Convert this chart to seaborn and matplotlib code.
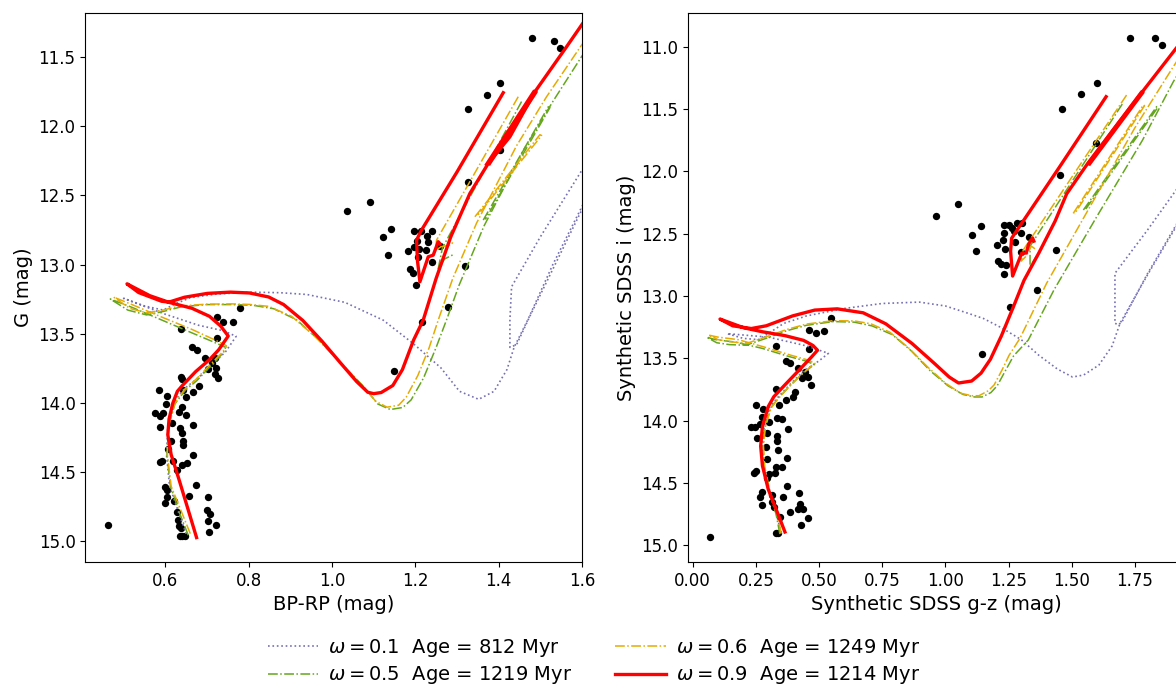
import matplotlib
matplotlib.use("Agg")
import matplotlib.pyplot as plt
from matplotlib.lines import Line2D
import pandas as pd
import seaborn as sns

# ---------------- models (legend) ----------------
MODEL_OMEGA = [0.1, 0.5, 0.6, 0.9]
MODEL_AGE = [812, 1219, 1249, 1214]

# ---------------- observed stars ----------------
L_STAR_X = [1.479, 1.534, 1.547, 1.404, 1.372, 1.327, 1.404, 1.327, 1.037, 1.092, 1.142, 1.122, 1.135,
            1.198, 1.214, 1.239, 1.229, 1.203, 1.231, 1.182, 1.210, 1.226, 1.197, 1.206, 1.239, 1.187,
            1.195, 1.202, 1.319, 1.279, 1.215, 1.149, 1.259,
            0.779, 0.723, 0.739, 0.763, 0.637, 0.723, 0.663, 0.675, 0.695, 0.719, 0.711, 0.703, 0.722,
            0.719, 0.727, 0.637, 0.640, 0.681, 0.667, 0.643, 0.650, 0.585, 0.603, 0.602, 0.639, 0.575,
            0.595, 0.587, 0.634, 0.650, 0.615, 0.667, 0.587, 0.635, 0.639, 0.613, 0.643, 0.642, 0.607,
            0.667, 0.587, 0.593, 0.618, 0.627, 0.639, 0.653, 0.599, 0.605, 0.674, 0.603, 0.599, 0.620,
            0.657, 0.702, 0.627, 0.699, 0.707, 0.703, 0.630, 0.721, 0.634, 0.638, 0.706, 0.635, 0.647,
            0.641, 0.462]
L_STAR_Y = [11.360, 11.380, 11.434, 11.689, 11.772, 11.872, 12.173, 12.399, 12.610, 12.545, 12.743, 12.803, 12.934,
            12.756, 12.756, 12.756, 12.792, 12.830, 12.835, 12.903, 12.891, 12.896, 12.870, 12.948, 12.980, 13.035,
            13.065, 13.149, 13.009, 13.310, 13.418, 13.770, 12.865,
            13.318, 13.383, 13.414, 13.414, 13.470, 13.535, 13.596, 13.620, 13.680, 13.680, 13.716, 13.760, 13.752,
            13.793, 13.820, 13.813, 13.830, 13.878, 13.921, 13.909, 13.958, 13.909, 13.953, 14.011, 14.030, 14.078,
            14.078, 14.097, 14.071, 14.086, 14.151, 14.163, 14.175, 14.185, 14.223, 14.276, 14.276, 14.307, 14.339,
            14.382, 14.433, 14.420, 14.421, 14.488, 14.450, 14.440, 14.609, 14.630, 14.599, 14.680, 14.725, 14.710,
            14.677, 14.682, 14.790, 14.778, 14.810, 14.856, 14.850, 14.889, 14.890, 14.910, 14.935, 14.966, 14.966,
            14.966, 14.889]

R_STAR_X = [1.730, 1.831, 1.857, 1.598, 1.535, 1.460, 1.596, 1.453, 0.961, 1.050, 1.139, 1.106, 1.123,
            1.231, 1.253, 1.285, 1.303, 1.264, 1.233, 1.272, 1.298, 1.330, 1.229, 1.276, 1.204, 1.237,
            1.298, 1.208, 1.221, 1.240, 1.233, 1.436, 1.362, 1.257, 1.145,
            0.547, 0.462, 0.488, 0.521, 0.328, 0.462, 0.369, 0.385, 0.415, 0.444, 0.431, 0.455, 0.468,
            0.330, 0.405, 0.396, 0.369, 0.343, 0.250, 0.279, 0.273, 0.332, 0.352, 0.231, 0.246, 0.266,
            0.303, 0.256, 0.295, 0.332, 0.332, 0.290, 0.339, 0.378, 0.374, 0.295, 0.250, 0.243, 0.330,
            0.352, 0.326, 0.300, 0.295, 0.372, 0.273, 0.422, 0.313, 0.267, 0.356, 0.273, 0.313, 0.320,
            0.425, 0.415, 0.435, 0.385, 0.345, 0.455, 0.427, 0.330, 0.339, 0.068]
R_STAR_Y = [10.930, 10.930, 10.983, 11.290, 11.383, 11.502, 11.770, 12.026, 12.357, 12.265, 12.439, 12.507, 12.638,
            12.430, 12.430, 12.414, 12.416, 12.458, 12.497, 12.480, 12.497, 12.528, 12.549, 12.563, 12.591, 12.624,
            12.645, 12.717, 12.740, 12.750, 12.821, 12.634, 12.955, 13.085, 13.464,
            13.174, 13.273, 13.294, 13.278, 13.401, 13.428, 13.519, 13.540, 13.580, 13.607, 13.660, 13.647, 13.714,
            13.749, 13.768, 13.808, 13.834, 13.877, 13.875, 13.909, 13.968, 13.981, 13.990, 14.049, 14.050, 14.027,
            14.010, 14.142, 14.100, 14.123, 14.160, 14.209, 14.235, 14.070, 14.302, 14.310, 14.402, 14.420, 14.370,
            14.374, 14.423, 14.430, 14.460, 14.522, 14.570, 14.578, 14.600, 14.610, 14.610, 14.677, 14.650, 14.690,
            14.669, 14.711, 14.710, 14.735, 14.771, 14.784, 14.837, 14.904, 14.904, 14.931]

# ---------------- isochrones, left panel (BP-RP, G) ----------------
L_W01_MAIN = [(0.650, 14.95), (0.630, 14.78), (0.610, 14.60), (0.603, 14.38), (0.606, 14.18), (0.620, 14.00),
              (0.645, 13.90), (0.675, 13.83), (0.715, 13.72), (0.745, 13.63), (0.770, 13.52), (0.740, 13.48),
              (0.680, 13.44), (0.600, 13.36), (0.530, 13.28), (0.500, 13.245), (0.550, 13.30), (0.595, 13.33),
              (0.620, 13.29), (0.660, 13.24), (0.720, 13.215), (0.800, 13.20), (0.875, 13.204), (0.940, 13.217),
              (1.031, 13.274), (1.123, 13.403), (1.196, 13.575), (1.261, 13.747), (1.306, 13.918), (1.352, 13.976),
              (1.389, 13.918), (1.420, 13.76), (1.437, 13.60), (1.470, 13.40), (1.530, 13.00), (1.600, 12.58),
              (1.640, 12.34)]
L_W01_LOOP = [(1.645, 12.33), (1.605, 12.57), (1.474, 13.38), (1.443, 13.58), (1.427, 13.60), (1.427, 13.40),
              (1.431, 13.161), (1.500, 12.80), (1.600, 12.316), (1.650, 12.08)]

L_W05_MAIN = [(0.655, 14.96), (0.633, 14.79), (0.612, 14.60), (0.604, 14.38), (0.607, 14.18), (0.623, 14.01),
              (0.648, 13.91), (0.676, 13.84), (0.712, 13.725), (0.739, 13.64), (0.745, 13.60), (0.715, 13.56),
              (0.660, 13.49), (0.590, 13.40), (0.520, 13.31), (0.468, 13.25), (0.510, 13.33), (0.555, 13.365),
              (0.595, 13.34), (0.640, 13.305), (0.700, 13.29), (0.760, 13.29), (0.810, 13.295), (0.860, 13.32),
              (0.915, 13.40), (0.970, 13.55), (1.020, 13.71), (1.075, 13.88), (1.110, 14.01), (1.140, 14.05),
              (1.170, 14.035), (1.190, 13.98), (1.220, 13.82), (1.250, 13.60), (1.275, 13.40), (1.305, 13.15),
              (1.365, 12.72), (1.460, 12.17), (1.530, 11.82), (1.600, 11.49), (1.640, 11.33)]
L_W05_DBL = [(1.363, 12.678), (1.519, 11.858), (1.523, 11.864), (1.368, 12.674)]
L_W05_AGB = [(1.455, 11.820), (1.265, 12.880), (1.255, 13.030), (1.270, 12.960), (1.290, 12.930)]

L_W06_MAIN = [(0.660, 14.949), (0.637, 14.777), (0.614, 14.605), (0.605, 14.376), (0.607, 14.176), (0.623, 14.004),
              (0.646, 13.904), (0.673, 13.833), (0.710, 13.718), (0.738, 13.632), (0.747, 13.589), (0.719, 13.546),
              (0.664, 13.470), (0.591, 13.380), (0.520, 13.290), (0.476, 13.236), (0.515, 13.318), (0.555, 13.350),
              (0.595, 13.330), (0.635, 13.300), (0.700, 13.287), (0.760, 13.285), (0.802, 13.289), (0.848, 13.303),
              (0.903, 13.375), (0.958, 13.518), (1.013, 13.689), (1.068, 13.861), (1.105, 13.990), (1.132, 14.033),
              (1.160, 14.019), (1.178, 13.961), (1.206, 13.804), (1.233, 13.604), (1.255, 13.402), (1.290, 13.100),
              (1.347, 12.700), (1.443, 12.140), (1.515, 11.785), (1.599, 11.411), (1.640, 11.250)]
L_W06_DBL = [(1.343, 12.654), (1.499, 12.060), (1.503, 12.066), (1.348, 12.650)]
L_W06_AGB = [(1.447, 11.785), (1.251, 12.823), (1.248, 12.900), (1.262, 12.870), (1.285, 12.860), (1.290, 12.840)]

L_W09_MAIN = [(0.675, 14.977), (0.655, 14.777), (0.632, 14.548), (0.614, 14.376), (0.606, 14.233), (0.609, 14.119),
              (0.618, 14.004), (0.629, 13.918), (0.641, 13.876), (0.673, 13.775), (0.706, 13.689), (0.728, 13.618),
              (0.751, 13.518), (0.733, 13.446), (0.706, 13.375), (0.664, 13.317), (0.609, 13.274), (0.563, 13.226),
              (0.508, 13.140), (0.536, 13.203), (0.591, 13.266), (0.609, 13.272), (0.646, 13.237), (0.701, 13.209),
              (0.756, 13.200), (0.802, 13.206), (0.848, 13.235), (0.884, 13.290), (0.930, 13.405), (0.976, 13.555),
              (1.022, 13.718), (1.059, 13.847), (1.086, 13.925), (1.100, 13.935), (1.118, 13.927), (1.146, 13.876),
              (1.169, 13.761), (1.196, 13.546), (1.219, 13.402), (1.250, 13.100), (1.285, 12.800), (1.331, 12.485),
              (1.375, 12.268), (1.427, 12.075), (1.487, 11.749), (1.563, 11.423), (1.599, 11.266), (1.640, 11.090)]
L_W09_DBL = [(1.371, 12.275), (1.485, 11.745), (1.490, 11.750), (1.378, 12.270)]
L_W09_AGB = [(1.411, 11.756), (1.300, 12.330), (1.215, 12.750), (1.203, 12.823), (1.205, 12.968), (1.211, 13.125),
             (1.231, 12.944), (1.243, 12.932), (1.255, 12.835), (1.259, 12.850)]

# ---------------- isochrones, right panel (g-z, i) ----------------
R_W01_MAIN = [(0.350, 14.90), (0.330, 14.74), (0.300, 14.55), (0.280, 14.36), (0.275, 14.20), (0.283, 14.05),
              (0.305, 13.89), (0.338, 13.81), (0.385, 13.71), (0.440, 13.60), (0.500, 13.52), (0.537, 13.46),
              (0.450, 13.40), (0.300, 13.33), (0.136, 13.302), (0.200, 13.34), (0.260, 13.35), (0.300, 13.30),
              (0.360, 13.22), (0.450, 13.16), (0.600, 13.10), (0.750, 13.06), (0.897, 13.049), (1.000, 13.08),
              (1.074, 13.128), (1.150, 13.18), (1.222, 13.255), (1.300, 13.35), (1.370, 13.476), (1.444, 13.587),
              (1.503, 13.650), (1.547, 13.634), (1.607, 13.555), (1.660, 13.40), (1.691, 13.219), (1.800, 12.83),
              (1.913, 12.444), (2.000, 12.14)]
R_W01_LOOP = [(2.000, 12.12), (1.913, 12.43), (1.800, 12.82), (1.698, 13.21), (1.685, 13.23), (1.671, 13.219),
              (1.671, 12.818), (1.800, 12.47), (1.913, 12.150), (2.000, 11.91)]

R_W05_MAIN = [(0.345, 14.91), (0.330, 14.75), (0.300, 14.56), (0.283, 14.37), (0.278, 14.20), (0.286, 14.05),
              (0.308, 13.90), (0.338, 13.82), (0.383, 13.725), (0.428, 13.635), (0.468, 13.57), (0.482, 13.55),
              (0.445, 13.52), (0.380, 13.485), (0.275, 13.42), (0.170, 13.37), (0.090, 13.35), (0.055, 13.33),
              (0.095, 13.375), (0.145, 13.39), (0.210, 13.395), (0.290, 13.34), (0.370, 13.28), (0.450, 13.235),
              (0.557, 13.205), (0.640, 13.21), (0.710, 13.24), (0.790, 13.31), (0.865, 13.44), (0.940, 13.60),
              (1.010, 13.72), (1.070, 13.79), (1.115, 13.81), (1.145, 13.81), (1.180, 13.775), (1.205, 13.72),
              (1.240, 13.59), (1.270, 13.48), (1.328, 13.353), (1.430, 12.95), (1.600, 12.36), (1.780, 11.75),
              (1.902, 11.281), (1.980, 11.02)]
R_W05_DBL = [(1.546, 12.310), (1.836, 11.481), (1.841, 11.486), (1.551, 12.315)]
R_W05_AGB = [(1.700, 11.460), (1.335, 12.600), (1.335, 12.765), (1.360, 12.680)]

R_W06_MAIN = [(0.350, 14.906), (0.335, 14.75), (0.305, 14.56), (0.285, 14.37), (0.280, 14.20), (0.288, 14.05),
              (0.310, 13.90), (0.340, 13.82), (0.385, 13.72), (0.430, 13.63), (0.470, 13.56), (0.484, 13.540),
              (0.450, 13.51), (0.385, 13.473), (0.279, 13.407), (0.180, 13.35), (0.100, 13.33), (0.062, 13.313),
              (0.100, 13.35), (0.148, 13.367), (0.214, 13.380), (0.293, 13.326), (0.370, 13.27), (0.450, 13.225),
              (0.557, 13.198), (0.640, 13.20), (0.705, 13.223), (0.780, 13.29), (0.853, 13.413), (0.930, 13.57),
              (1.001, 13.70), (1.060, 13.78), (1.104, 13.80), (1.133, 13.80), (1.170, 13.76), (1.193, 13.713),
              (1.225, 13.59), (1.252, 13.476), (1.295, 13.340), (1.400, 12.90), (1.572, 12.284), (1.750, 11.65),
              (1.902, 11.160), (1.970, 10.95)]
R_W06_DBL = [(1.506, 12.337), (1.783, 11.468), (1.788, 11.473), (1.511, 12.342)]
R_W06_AGB = [(1.717, 11.388), (1.308, 12.631), (1.300, 12.720), (1.320, 12.680), (1.340, 12.600), (1.360, 12.630)]

R_W09_MAIN = [(0.365, 14.893), (0.336, 14.741), (0.299, 14.551), (0.276, 14.362), (0.269, 14.204), (0.276, 14.046),
              (0.299, 13.887), (0.321, 13.808), (0.365, 13.713), (0.417, 13.603), (0.469, 13.492), (0.494, 13.435),
              (0.476, 13.397), (0.439, 13.356), (0.365, 13.318), (0.276, 13.287), (0.202, 13.255), (0.108, 13.185),
              (0.158, 13.239), (0.232, 13.261), (0.291, 13.239), (0.395, 13.160), (0.483, 13.113), (0.572, 13.103),
              (0.675, 13.135), (0.764, 13.223), (0.868, 13.381), (0.956, 13.540), (1.015, 13.650), (1.052, 13.698),
              (1.104, 13.682), (1.141, 13.619), (1.178, 13.508), (1.222, 13.318), (1.267, 13.097), (1.311, 12.875),
              (1.370, 12.654), (1.434, 12.400), (1.480, 12.180), (1.562, 11.940), (1.670, 11.650), (1.780, 11.360),
              (1.913, 11.013), (2.000, 10.800)]
R_W09_DBL = [(1.566, 11.935), (1.777, 11.361), (1.782, 11.366), (1.571, 11.940)]
R_W09_AGB = [(1.636, 11.401), (1.450, 11.970), (1.262, 12.537), (1.258, 12.640), (1.266, 12.840), (1.302, 12.657),
             (1.320, 12.655), (1.330, 12.580), (1.345, 12.535), (1.350, 12.560)]

LEFT_CURVES = [[L_W01_MAIN, L_W01_LOOP], [L_W05_MAIN, L_W05_DBL, L_W05_AGB],
               [L_W06_MAIN, L_W06_DBL, L_W06_AGB], [L_W09_MAIN, L_W09_DBL, L_W09_AGB]]
RIGHT_CURVES = [[R_W01_MAIN, R_W01_LOOP], [R_W05_MAIN, R_W05_DBL, R_W05_AGB],
                [R_W06_MAIN, R_W06_DBL, R_W06_AGB], [R_W09_MAIN, R_W09_DBL, R_W09_AGB]]

# ---------------- styles ----------------
COLORS = ["#7570b3", "#66a61e", "#e6ab02", "#ff0000"]
LSTYLES = [":", "-.", "-.", "-"]
LWIDTHS = [1.2, 1.1, 1.1, 2.4]


def seg_frame(segments):
    rows = []
    for k, seg in enumerate(segments):
        for x, y in seg:
            rows.append((x, y, k))
    return pd.DataFrame(rows, columns=["x", "y", "seg"])


W, H = 1176, 686
fig = plt.figure(figsize=(W / 100, H / 100), dpi=100)
ax1 = fig.add_axes([85.3 / W, 124 / H, 496.7 / W, 548.7 / H])
ax2 = fig.add_axes([688 / W, 124 / H, 496.7 / W, 548.7 / H])

for ax, sx, sy, curves in [(ax1, L_STAR_X, L_STAR_Y, LEFT_CURVES), (ax2, R_STAR_X, R_STAR_Y, RIGHT_CURVES)]:
    stars = pd.DataFrame({"x": sx, "y": sy})
    sns.scatterplot(data=stars, x="x", y="y", color="black", s=28, linewidth=0, ax=ax, legend=False, zorder=2)
    for i, segs in enumerate(curves):
        df = seg_frame(segs)
        sns.lineplot(data=df, x="x", y="y", units="seg", estimator=None, sort=False,
                     color=COLORS[i], linestyle=LSTYLES[i], linewidth=LWIDTHS[i], ax=ax,
                     legend=False, zorder=3 + i)

ax1.set_xlim(0.408, 1.6)
ax1.set_ylim(15.154, 11.181)
ax1.set_xticks([0.6, 0.8, 1.0, 1.2, 1.4, 1.6])
ax1.set_yticks([11.5, 12.0, 12.5, 13.0, 13.5, 14.0, 14.5, 15.0])
ax1.set_xlabel("BP-RP (mag)", fontsize=14)
ax1.set_ylabel("G (mag)", fontsize=14)

ax2.set_xlim(-0.0186, 1.947)
ax2.set_ylim(15.134, 10.732)
ax2.set_xticks([0.0, 0.25, 0.5, 0.75, 1.0, 1.25, 1.5, 1.75])
ax2.set_xticklabels(["0.00", "0.25", "0.50", "0.75", "1.00", "1.25", "1.50", "1.75"])
ax2.set_yticks([11.0, 11.5, 12.0, 12.5, 13.0, 13.5, 14.0, 14.5, 15.0])
ax2.set_xlabel("Synthetic SDSS g-z (mag)", fontsize=14)
ax2.set_ylabel("Synthetic SDSS i (mag)", fontsize=14)

for ax in (ax1, ax2):
    ax.tick_params(labelsize=12)
    for sp in ax.spines.values():
        sp.set_visible(True)
        sp.set_color("black")

handles = [Line2D([0], [0], color=COLORS[i], linestyle=LSTYLES[i], linewidth=LWIDTHS[i]) for i in range(4)]
labels = [r"$\omega = %s$  Age = %d Myr" % (MODEL_OMEGA[i], MODEL_AGE[i]) for i in range(4)]
fig.legend(handles, labels, loc="lower center", bbox_to_anchor=(0.505, -0.026), ncol=2, frameon=False,
           fontsize=14, handlelength=2.6, handletextpad=0.5, columnspacing=2.2, labelspacing=0.3)

fig.savefig("out.png", dpi=100)
